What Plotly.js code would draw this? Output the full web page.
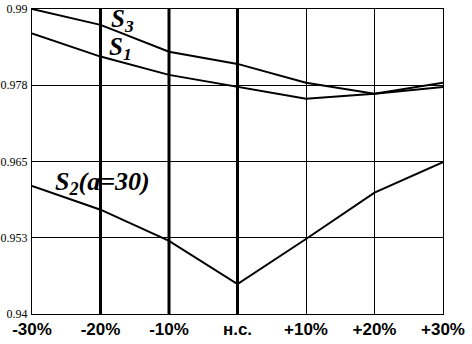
<!DOCTYPE html>
<html>
<head>
<meta charset="utf-8">
<script src="https://cdn.plot.ly/plotly-3.0.1.min.js"></script>
<style>html,body{margin:0;padding:0;background:#fff;}#chart{width:472px;height:344px;}</style>
</head>
<body>
<div id="chart"></div>
<script>
var categories = ['-30%', '-20%', '-10%', 'н.с.', '+10%', '+20%', '+30%'];
var s3 = [0.9900, 0.9874, 0.9830, 0.9810, 0.9779, 0.9761, 0.9779];
var s1 = [0.9860, 0.9822, 0.9792, 0.9772, 0.9753, 0.9761, 0.9772];
var s2 = [0.9610, 0.9571, 0.9520, 0.9449, 0.9523, 0.9599, 0.9649];
var yTickVals = [0.94, 0.9525, 0.965, 0.9775, 0.99];
var yTickText = ['0.94', '0.953', '0.965', '0.978', '0.99'];
var thickCats = ['-20%', '-10%', 'н.с.'];
var labels = [
  {text: '<b><i>S<sub>3</sub></i></b>', x: 0.188, y: 0.962, size: 25},
  {text: '<b><i>S<sub>1</sub></i></b>', x: 0.183, y: 0.872, size: 25},
  {text: '<b><i>S<sub>2</sub>(a=30)</i></b>', x: 0.050, y: 0.428, size: 26}
];

var lineStyle = {color: '#000', width: 2};
var traces = [s3, s1, s2].map(function (v) {
  return {x: categories, y: v, type: 'scatter', mode: 'lines', line: lineStyle, hoverinfo: 'skip'};
});

var shapes = thickCats.map(function (c) {
  return {type: 'line', xref: 'x', yref: 'paper', x0: c, x1: c, y0: 0, y1: 1,
    line: {color: '#000', width: 3}, layer: 'below'};
});

var annotations = labels.map(function (l) {
  return {text: l.text, xref: 'paper', yref: 'paper', x: l.x, y: l.y, xanchor: 'left', yanchor: 'middle',
    showarrow: false, font: {family: 'Liberation Serif, Times New Roman, serif', size: l.size, color: '#000'}};
});

var layout = {
  width: 472, height: 344,
  margin: {l: 32, r: 29, t: 9, b: 30, pad: 0},
  paper_bgcolor: '#fff', plot_bgcolor: '#fff',
  showlegend: false,
  xaxis: {
    type: 'category', range: [0, categories.length - 1],
    showgrid: true, gridcolor: '#000', gridwidth: 1,
    showline: true, linecolor: '#000', linewidth: 1, mirror: true,
    ticks: '', zeroline: false,
    tickfont: {family: 'Liberation Sans, Arial, sans-serif', size: 17, color: '#000', weight: 'bold'}
  },
  yaxis: {
    range: [0.94, 0.99], tickvals: yTickVals, ticktext: yTickText,
    showgrid: true, gridcolor: '#000', gridwidth: 1,
    showline: true, linecolor: '#000', linewidth: 1, mirror: true,
    ticks: '', zeroline: false, ticklabelstandoff: 1,
    tickfont: {family: 'Liberation Serif, Times New Roman, serif', size: 12, color: '#000'}
  },
  shapes: shapes,
  annotations: annotations
};

Plotly.newPlot('chart', traces, layout, {staticPlot: true, displayModeBar: false});
</script>
</body>
</html>
